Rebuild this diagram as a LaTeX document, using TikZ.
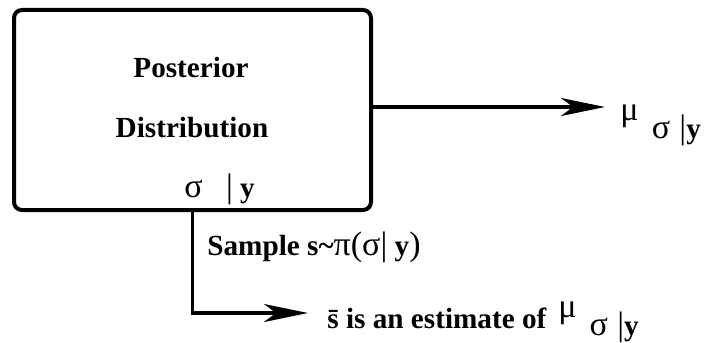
\documentclass[tikz,border=0pt]{standalone}
\usepackage{fontspec}
\setmainfont{Liberation Serif}
\usetikzlibrary{arrows.meta,positioning}
\newcommand{\gk}[1]{{\fontsize{17}{17}\selectfont\mdseries #1}}
\newcommand{\muSY}{\raisebox{0.6em}{\gk{μ}}\hspace{0.45em}\gk{σ}\hspace{0.32em}\gk{|}\textbf{y}}
\tikzset{
  post/.style={draw,line width=2pt,rounded corners=4pt,minimum width=178.5pt,minimum height=100pt,inner sep=0pt},
  arr/.style={-{Stealth[length=22pt,width=9pt,inset=6pt]},line width=1.8pt},
  lbl/.style={font=\fontsize{14.6}{17}\selectfont\bfseries,inner sep=0pt,anchor=base west},
  gr/.style={font=\fontsize{14.6}{17}\selectfont,inner sep=0pt,anchor=base west},
}
\begin{document}
\begin{tikzpicture}[x=0.5pt,y=-0.5pt]
  \useasboundingbox (0,0) rectangle (705,342);
  \node[post] (pd) at (192.5,110) {};
  \node[lbl,anchor=base] (pt) at (191,77) {Posterior};
  \node[lbl,anchor=base] (dt) at (192,137) {Distribution};
  \node[gr] (sy) at (184,197) {\gk{σ}\hspace{0.8em}\gk{|} \textbf{y}};
  \coordinate (rtip) at (605,107);
  \coordinate (btip) at (308,313);
  \draw[arr] (pd.east |- rtip) -- (rtip);
  \draw[arr] (pd.south) |- (btip);
  \node[gr] (rl) at (620,138) {\muSY};
  \node[lbl] (smp) at (207,255) {Sample s\textasciitilde\gk{π(σ|} y\gk{)}};
  \node[lbl] (est) at (327,328) {\={s} is an estimate of\hspace{0.4em}\textmd{\raisebox{-0.24em}{\muSY}}};
\end{tikzpicture}
\end{document}
